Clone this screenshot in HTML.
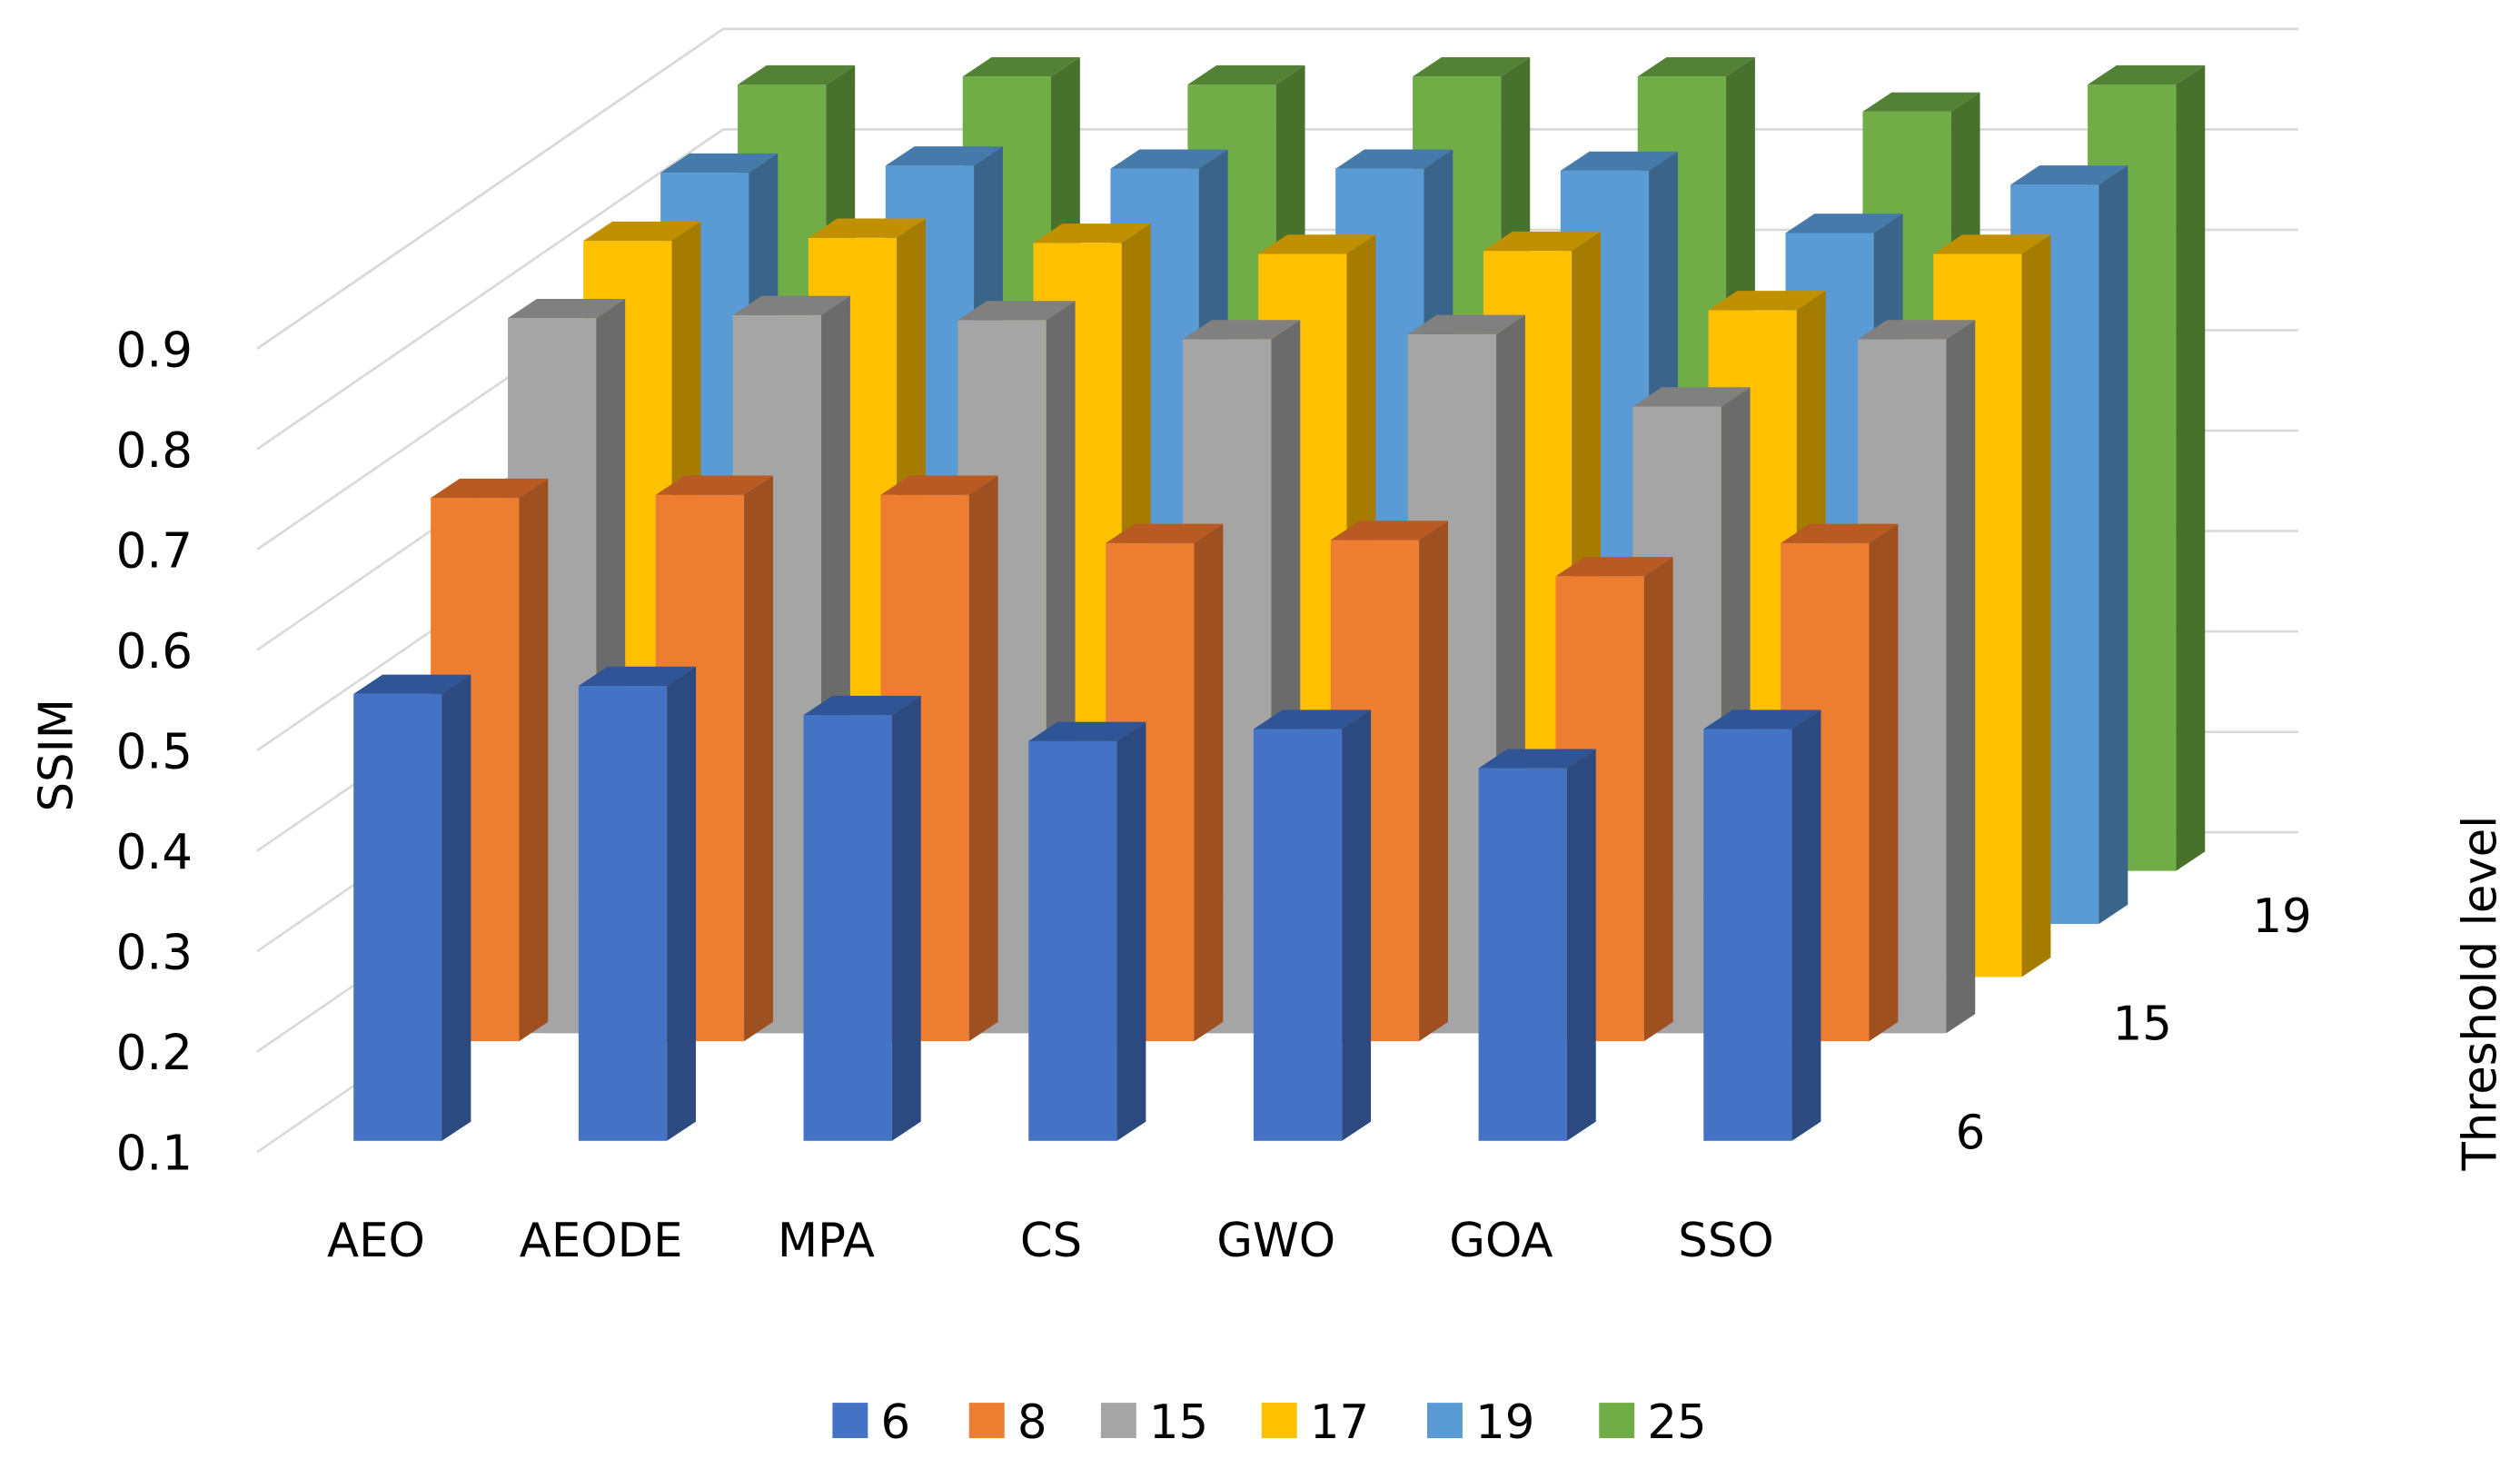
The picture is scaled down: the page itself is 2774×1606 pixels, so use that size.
<!DOCTYPE html>
<html><head><meta charset="utf-8"><style>
html,body{margin:0;padding:0;background:#fff;}
svg{display:block;}
text{font-family:"DejaVu Sans","Liberation Sans",sans-serif;fill:#000;}
</style></head><body>
<svg id="chart" width="2774" height="1606" viewBox="0 0 1568 908" preserveAspectRatio="none" xmlns="http://www.w3.org/2000/svg">
<g id="grid"></g>
<g id="bars"></g>
<g id="labels"></g>
</svg>
<script>
const categories = ["AEO","AEODE","MPA","CS","GWO","GOA","SSO"];
const seriesNames = ["6","8","15","17","19","25"];
const s6  = [0.545,0.553,0.524,0.498,0.510,0.471,0.510];
const s8  = [0.641,0.644,0.644,0.596,0.599,0.563,0.596];
const s15 = [0.812,0.815,0.810,0.791,0.796,0.724,0.791];
const s17 = [0.833,0.836,0.831,0.820,0.823,0.764,0.820];
const s19 = [0.848,0.855,0.852,0.852,0.850,0.788,0.836];
const s25 = [0.883,0.891,0.883,0.891,0.891,0.856,0.883];
const yTicks = ["0.1","0.2","0.3","0.4","0.5","0.6","0.7","0.8","0.9"];
const depthLabels = ["6","15","19"];

const NS="http://www.w3.org/2000/svg";
const series=[s6,s8,s15,s17,s19,s25];
const rowX=[220,268,316,363,411,459];
const rowBase=[710,648,643,608,575,542];
const colors=[["#4472C4","#2C4A80","#2F5597"],["#ED7D31","#9E5020","#B85A22"],["#A5A5A5","#6B6B6B","#808080"],["#FFC000","#A67C00","#C09000"],["#5B9BD5","#3A6489","#467AAA"],["#70AD47","#49712E","#538135"]];
const PX=625, BW=55, DX=18, DY=12, STEP=140;
function yv(v,row){return rowBase[row]-(v-0.1)*PX;}
function xc(i,row){return rowX[row]+i*STEP;}
function mk(tag,attrs,parent){const e=document.createElementNS(NS,tag);for(const k in attrs)e.setAttribute(k,attrs[k]);parent.appendChild(e);return e;}

const grid=document.getElementById('grid');
const bars=document.getElementById('bars');
const labels=document.getElementById('labels');
for(let t=0;t<yTicks.length;t++){
  const yl=717-t*62.5, yb=518-t*62.5;
  const l1=mk('line',{x1:160,y1:yl,x2:450,y2:yb,stroke:"#D9D9D9","stroke-width":1.5},grid);
  
  
  const l2=mk('line',{x1:450,y1:yb,x2:1430,y2:yb,stroke:"#D9D9D9","stroke-width":1.5},grid);
  
  
  const tx=mk('text',{x:96,y:yl+11,"font-size":30,"text-anchor":"middle"},labels);
  tx.textContent=yTicks[t];
  
  
}
{const l=mk('line',{x1:160,y1:217,x2:450,y2:18,stroke:"#D9D9D9","stroke-width":1.5},grid);

const l2=mk('line',{x1:450,y1:18,x2:1430,y2:18,stroke:"#D9D9D9","stroke-width":1.5},grid);
}

function drawRow(r){
  const c=colors[r];
  for(let i=0;i<categories.length;i++){
    const x=xc(i,r), b=rowBase[r], t=yv(series[r][i],r);
    const g=mk('g',{},bars);
    
    
    mk('rect',{x:x,y:t,width:BW,height:b-t,fill:c[0]},g);
    mk('polygon',{points:`${x+BW},${t} ${x+BW+DX},${t-DY} ${x+BW+DX},${b-DY} ${x+BW},${b}`,fill:c[1]},g);
    mk('polygon',{points:`${x},${t} ${x+DX},${t-DY} ${x+BW+DX},${t-DY} ${x+BW},${t}`,fill:c[2]},g);
  }
}
for(let r=5;r>=2;r--){drawRow(r);}
{const band=mk('rect',{x:340,y:560,width:870,height:83,fill:"#A5A5A5"},bars);
}
drawRow(1);drawRow(0);

for(let i=0;i<categories.length;i++){
  const tx=mk('text',{x:xc(i,0)+14,y:782,"font-size":29,"text-anchor":"middle"},labels);
  tx.textContent=categories[i];
  
  
}
const dpos=[[1226,715],[1333,647],[1420,580]];
for(let k=0;k<depthLabels.length;k++){
  const tx=mk('text',{x:dpos[k][0],y:dpos[k][1],"font-size":29,"text-anchor":"middle"},labels);
  tx.textContent=depthLabels[k];
  
  
}
{const t=mk('text',{x:0,y:0,"font-size":29,"text-anchor":"middle",transform:"translate(45,470) rotate(-90)"},labels);
t.textContent="SSIM";
const t2=mk('text',{x:0,y:0,"font-size":29,"text-anchor":"middle",transform:"translate(1553,618) rotate(-90)"},labels);
t2.textContent="Threshold level";}
const legX=[518,603,685,785,888,995];
for(let r=0;r<seriesNames.length;r++){
  const g=mk('g',{},labels);
  
  
  mk('rect',{x:legX[r],y:873,width:22,height:22,fill:colors[r][0]},g);
  const tx=mk('text',{x:legX[r]+30,y:895,"font-size":29},g);
  tx.textContent=seriesNames[r];
}
</script>
</body></html>
